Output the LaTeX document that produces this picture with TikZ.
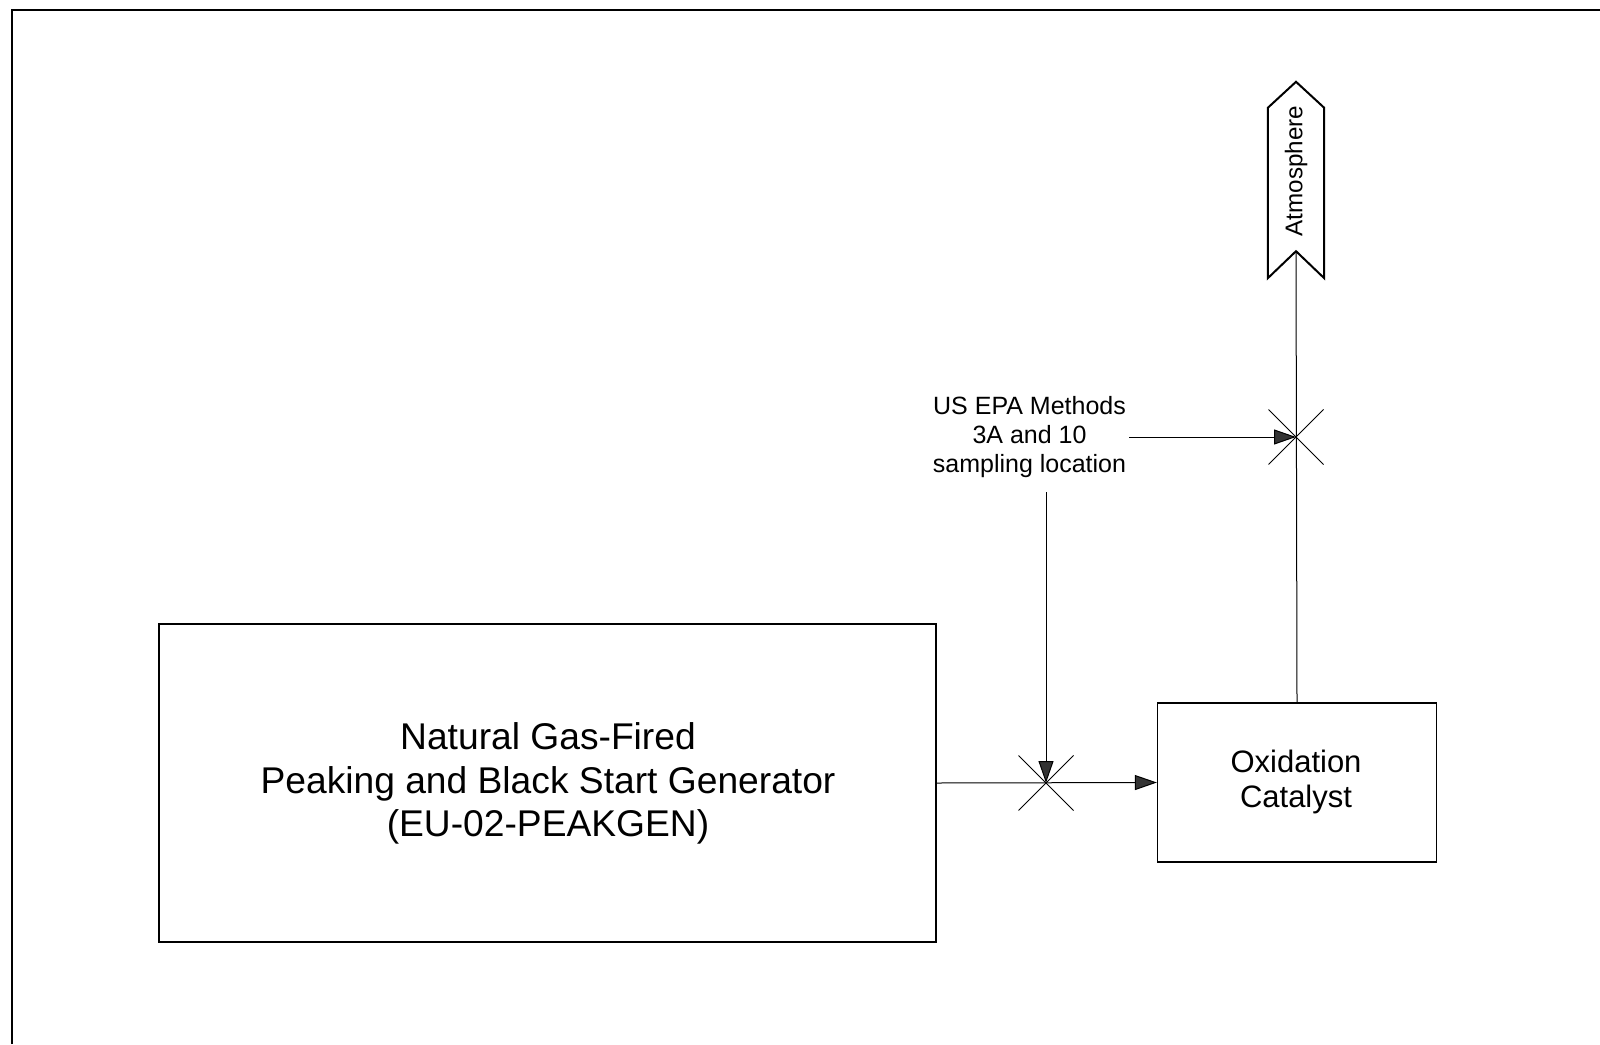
\documentclass[tikz,border=0pt]{standalone}
\usepackage{fontspec}
\setmainfont{Liberation Sans}
\usetikzlibrary{arrows.meta,shapes.misc}
\begin{document}
\begin{tikzpicture}[x=1pt,y=-1pt,
  box/.style={draw, line width=1.3pt, inner sep=0pt, align=center},
  flow/.style={line width=1pt, -{Triangle[length=22pt,width=15pt,fill=black!80]}},
  plain/.style={line width=1pt},
  xmark/.style={cross out, draw, line width=1pt, minimum size=54pt, inner sep=0pt},
  frame/.style={line width=2.5pt},
  atmline/.style={line width=2pt, line join=miter}]
\useasboundingbox (0,0) rectangle (1600,1044);
\draw[frame] (12,1044) -- (12,10) -- (1600,10);
% generator
\node[box, minimum width=777pt, minimum height=318pt] (gen) at (547.5,783) {};
\node[font=\fontsize{37.2}{43.5}\selectfont, align=center] (gentxt) at (548,783.5)
  {Natural Gas-Fired\\Peaking and Black Start Generator\\(EU-02-PEAKGEN)};
% oxidation catalyst
\node[box, minimum width=279pt, minimum height=159pt] (ox) at (1297,782.5) {};
\node[font=\fontsize{31}{35.5}\selectfont, align=center] (oxtxt) at (1296,782)
  {Oxidation\\Catalyst};
% atmosphere
\node[minimum width=56pt, minimum height=196pt, inner sep=0pt] (atm) at (1296,180) {};
\draw[atmline] (atm.south west) -- ([yshift=-26pt]atm.north west) -- (atm.north)
  -- ([yshift=-26pt]atm.north east) -- (atm.south east) -- ([yshift=27pt]atm.south) -- cycle;
\node[rotate=90, font=\fontsize{24.2}{28}\selectfont] (atmtxt) at ([yshift=9pt]atm.center) {Atmosphere};
% sampling label
\node[font=\fontsize{25}{29}\selectfont, align=center, inner xsep=3pt, inner ysep=0pt] (lab) at (1029.5,437)
  {US EPA Methods\\3A and 10\\sampling location};
% cross marks
\node[xmark] (x1) at (1046,783) {};
\node[xmark] (x2) at (1296,437) {};
\coordinate (s1) at (1046,492);
% connectors
\draw[flow] (gen.east) -- (ox.west);
\draw[flow] (s1) -- (x1.center);
\draw[flow] (lab.east) -- (x2.center);
\draw[plain] (ox.north) -- ([yshift=27pt]atm.south);
\end{tikzpicture}
\end{document}
